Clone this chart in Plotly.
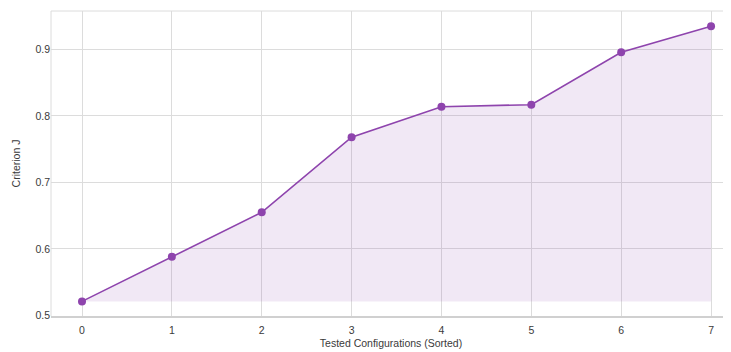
import plotly.graph_objects as go

configs = [0, 1, 2, 3, 4, 5, 6, 7]
criterion_j = [0.521, 0.588, 0.655, 0.768, 0.814, 0.817, 0.896, 0.935]
y_ticks = [0.5, 0.6, 0.7, 0.8, 0.9]

base = min(criterion_j)
purple = "#8E44AD"

fig = go.Figure()
fig.add_trace(go.Scatter(x=configs, y=[base] * len(configs), mode="lines",
                         line=dict(width=0, color="rgba(0,0,0,0)"), hoverinfo="skip",
                         showlegend=False))
fig.add_trace(go.Scatter(x=configs, y=criterion_j, mode="lines+markers",
                         fill="tonexty", fillcolor="rgba(142,68,173,0.12)",
                         line=dict(color=purple, width=1.6),
                         marker=dict(color=purple, size=8),
                         showlegend=False))

# page body has an 8px default margin; compensate so the plot lands where the reference has it
fig.update_layout(
    width=723, height=344,
    margin=dict(l=43, r=0, t=3, b=36, autoexpand=False),
    paper_bgcolor="white", plot_bgcolor="white",
    font=dict(family="Liberation Sans, Arial, sans-serif", size=10.5, color="#3a3a3a"),
    xaxis=dict(range=[-0.345, 7.222], tickvals=configs, showgrid=True,
               gridcolor="#dcdcdc", gridwidth=1, zeroline=False, automargin=False,
               showline=True, linecolor="#d0d0d0", linewidth=2, mirror=False,
               ticks="outside", ticklen=3, tickcolor="rgba(0,0,0,0)",
               title=dict(text="Tested Configurations (Sorted)", standoff=5,
                          font=dict(size=10.5))),
    yaxis=dict(range=[0.499, 0.958], tickvals=y_ticks, showgrid=True,
               gridcolor="#dcdcdc", gridwidth=1, zeroline=False, automargin=False,
               showline=False, ticks="",
               title=dict(text="Criterion J", standoff=12, font=dict(size=10.5))),
)
fig.add_shape(type="line", xref="paper", yref="paper", x0=0, x1=0, y0=0, y1=1,
              line=dict(color="#dcdcdc", width=1))
fig.add_shape(type="line", xref="paper", yref="paper", x0=0, x1=1, y0=1, y1=1,
              line=dict(color="#dcdcdc", width=1))

fig.write_html("out.html")
